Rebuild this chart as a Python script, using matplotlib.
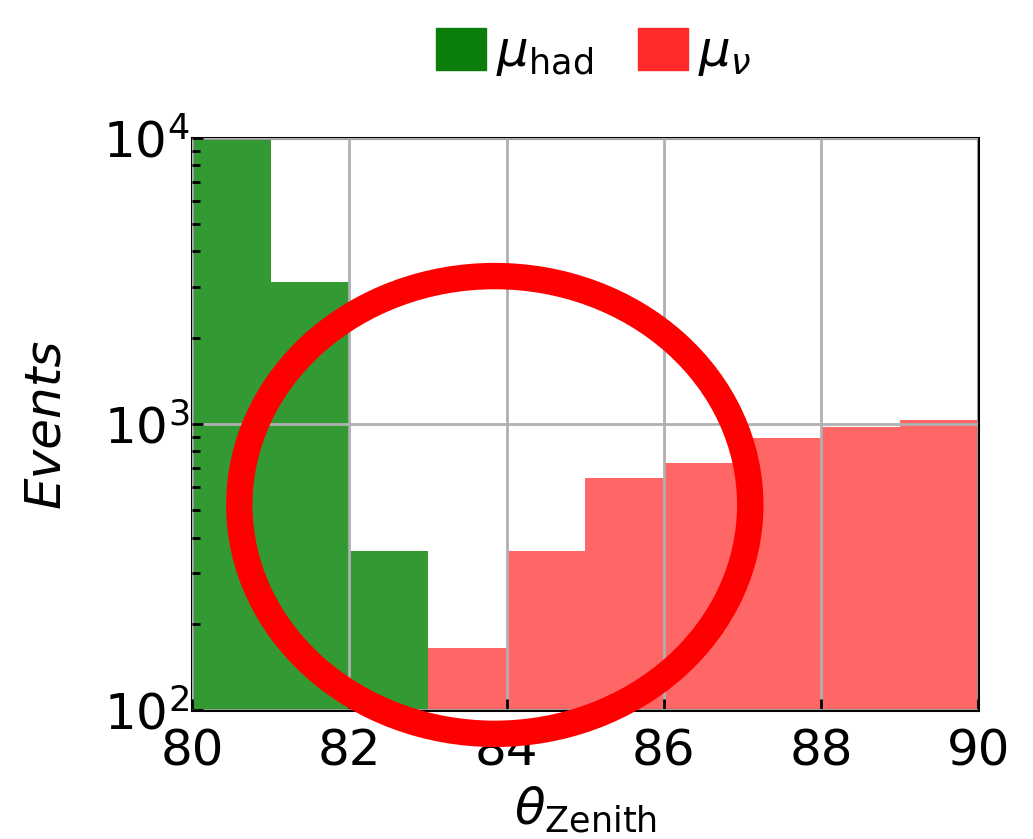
import matplotlib
matplotlib.use("Agg")
import matplotlib.pyplot as plt
import numpy as np
from matplotlib.patches import Ellipse, Patch

# histogram bins (zenith angle, degrees) and counts per bin
bin_edges = [80, 81, 82, 83, 84, 85, 86, 87, 88, 89, 90]
had_counts = [12000, 3140, 360, 0, 0, 0, 0, 0, 0, 0]
nu_counts = [0, 0, 0, 165, 360, 647, 731, 893, 977, 1032]

plt.rcParams['font.size'] = 36
plt.rcParams['mathtext.fontset'] = 'dejavusans'

fig = plt.figure(figsize=(10.33, 8.39), dpi=100)
ax = fig.add_axes([0.186, 0.154, 0.761, 0.682])

centers = np.array(bin_edges[:-1]) + 0.5
ax.bar(centers, had_counts, width=1.0, color='green', alpha=0.8, linewidth=0)
ax.bar(centers, nu_counts, width=1.0, color='red', alpha=0.6, linewidth=0)

ax.set_yscale('log')
ax.set_xlim(80, 90)
ax.set_ylim(100, 10000)
ax.set_xticks([80, 82, 84, 86, 88, 90])
ax.set_axisbelow(False)
ax.grid(True, color='#b0b0b0', linewidth=2)

ax.tick_params(which='both', direction='in', width=2)
ax.tick_params(which='major', length=8)
ax.tick_params(axis='x', which='major', pad=13)
ax.tick_params(axis='y', which='major', pad=2)
ax.tick_params(which='minor', length=6)
for s in ax.spines.values():
    s.set_linewidth(2.2)

ax.set_xlabel(r'$\theta_{\rm Zenith}$', labelpad=6)
ax.set_ylabel('Events', style='italic', labelpad=24)

handles = [Patch(color='#0a7d0a', label=r'$\mu_{\rm had}$'),
           Patch(color='#ff2b2b', label=r'$\mu_{\nu}$')]
fig.legend(handles=handles, loc='upper center', bbox_to_anchor=(0.575, 1.02),
           ncol=2, frameon=False, handlelength=1.0, handleheight=0.9,
           columnspacing=0.9, handletextpad=0.2)

# highlight the crossover region
ring = Ellipse((0.385, 0.358), 0.65, 0.80, transform=ax.transAxes,
               fill=False, edgecolor='red', linewidth=19, clip_on=False, zorder=5)
ax.add_patch(ring)

fig.savefig('out.png', dpi=100)
